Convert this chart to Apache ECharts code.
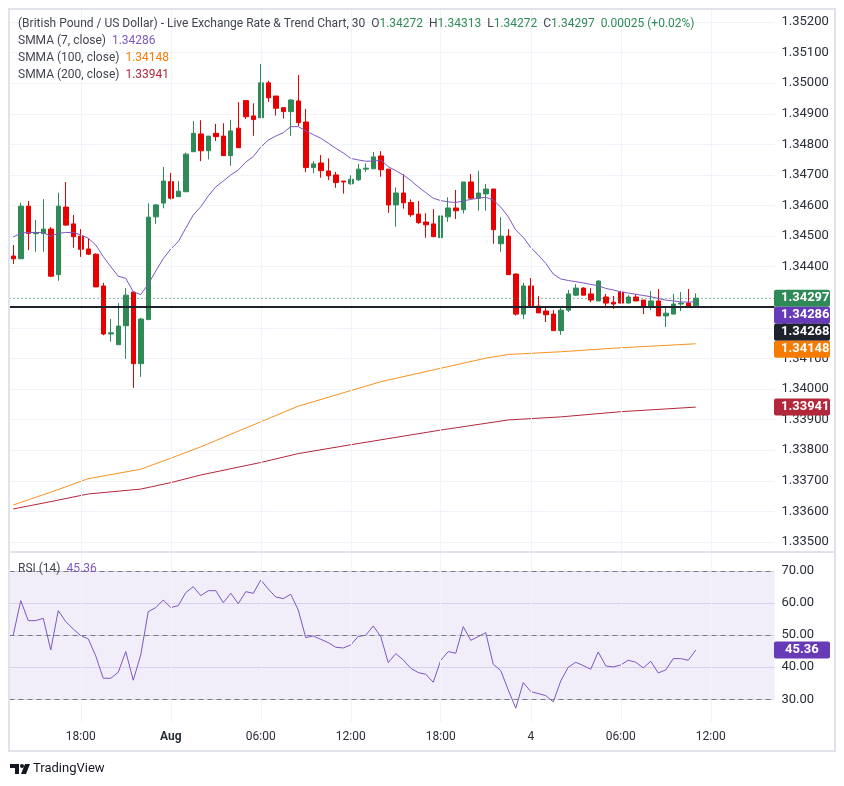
<!DOCTYPE html>
<html>
<head>
<meta charset="utf-8">
<title>GBP/USD 30</title>
<script src="https://cdn.jsdelivr.net/npm/echarts/dist/echarts.min.js"></script>
<style>
html, body { margin: 0; padding: 0; background: #fff; }
#chart { width: 844px; height: 786px; }
</style>
</head>
<body>
<div id="chart"></div>
<script>
// candles, 30 min, from 31 Jul 13:30 to 4 Aug 11:00
var open = [1.34435,1.34426,1.34598,1.34508,1.34508,1.34523,1.34374,1.34595,1.34540,1.34500,
            1.34458,1.34441,1.34337,1.34180,1.34145,1.34207,1.34317,1.34083,1.34227,1.34563,
            1.34608,1.34678,1.34629,1.34645,1.34776,1.34834,1.34779,1.34836,1.34827,1.34763,
            1.34853,1.34943,1.34893,1.34887,1.35001,1.34958,1.34920,1.34907,1.34942,1.34873,
            1.34724,1.34739,1.34713,1.34700,1.34680,1.34671,1.34684,1.34719,1.34720,1.34762,
            1.34719,1.34602,1.34641,1.34610,1.34572,1.34546,1.34540,1.34495,1.34563,1.34592,
            1.34586,1.34677,1.34624,1.34638,1.34654,1.34475,1.34500,1.34376,1.34245,1.34337,
            1.34271,1.34255,1.34245,1.34191,1.34258,1.34307,1.34330,1.34311,1.34288,1.34301,
            1.34284,1.34317,1.34281,1.34301,1.34291,1.34270,1.34288,1.34239,1.34245,1.34278,
            1.34281,1.34272];
var close = [1.34426,1.34598,1.34509,1.34512,1.34523,1.34369,1.34598,1.34536,1.34498,1.34457,
             1.34441,1.34334,1.34180,1.34184,1.34206,1.34307,1.34083,1.34229,1.34562,1.34602,
             1.34680,1.34624,1.34647,1.34768,1.34836,1.34779,1.34827,1.34825,1.34763,1.34844,
             1.34789,1.34890,1.34881,1.35001,1.34952,1.34918,1.34907,1.34945,1.34871,1.34724,
             1.34736,1.34714,1.34697,1.34675,1.34677,1.34686,1.34719,1.34722,1.34759,1.34717,
             1.34602,1.34641,1.34609,1.34570,1.34544,1.34537,1.34498,1.34566,1.34592,1.34583,
             1.34677,1.34624,1.34641,1.34654,1.34521,1.34500,1.34374,1.34245,1.34337,1.34270,
             1.34249,1.34243,1.34191,1.34258,1.34311,1.34330,1.34307,1.34291,1.34353,1.34281,
             1.34278,1.34281,1.34301,1.34288,1.34270,1.34288,1.34239,1.34248,1.34278,1.34281,
             1.34270,1.34297];
var low = [1.34409,1.34426,1.34454,1.34449,1.34449,1.34366,1.34354,1.34534,1.34462,1.34432,
           1.34438,1.34334,1.34176,1.34155,1.34145,1.34099,1.34004,1.34040,1.34227,1.34540,
           1.34591,1.34620,1.34629,1.34645,1.34776,1.34745,1.34751,1.34811,1.34763,1.34730,
           1.34789,1.34883,1.34828,1.34887,1.34939,1.34894,1.34884,1.34828,1.34860,1.34709,
           1.34705,1.34691,1.34683,1.34658,1.34639,1.34668,1.34680,1.34710,1.34720,1.34694,
           1.34576,1.34531,1.34590,1.34563,1.34540,1.34495,1.34498,1.34482,1.34547,1.34556,
           1.34574,1.34620,1.34583,1.34583,1.34475,1.34449,1.34374,1.34240,1.34229,1.34270,
           1.34249,1.34219,1.34191,1.34177,1.34252,1.34304,1.34307,1.34284,1.34288,1.34270,
           1.34262,1.34281,1.34281,1.34288,1.34245,1.34258,1.34239,1.34203,1.34245,1.34255,
           1.34270,1.34272];
var high = [1.34471,1.34609,1.34615,1.34553,1.34621,1.34530,1.34642,1.34677,1.34569,1.34523,
            1.34493,1.34444,1.34347,1.34229,1.34281,1.34330,1.34318,1.34233,1.34607,1.34605,
            1.34726,1.34707,1.34680,1.34773,1.34876,1.34879,1.34827,1.34867,1.34869,1.34880,
            1.34938,1.34943,1.34934,1.35063,1.35008,1.34958,1.34920,1.34948,1.35027,1.34916,
            1.34745,1.34765,1.34754,1.34710,1.34680,1.34699,1.34736,1.34738,1.34775,1.34778,
            1.34719,1.34659,1.34702,1.34620,1.34615,1.34575,1.34588,1.34566,1.34627,1.34651,
            1.34677,1.34703,1.34713,1.34670,1.34654,1.34562,1.34523,1.34378,1.34347,1.34363,
            1.34304,1.34270,1.34258,1.34271,1.34324,1.34343,1.34333,1.34330,1.34356,1.34311,
            1.34304,1.34321,1.34307,1.34311,1.34291,1.34320,1.34327,1.34271,1.34311,1.34317,
            1.34327,1.34313];

// SMMA (7) per candle
var smma7 = [1.34497,1.34510,1.34512,1.34512,1.34512,1.34499,1.34509,1.34512,1.34512,1.34504,
             1.34493,1.34471,1.34433,1.34400,1.34369,1.34362,1.34318,1.34309,1.34343,1.34386,
             1.34426,1.34458,1.34482,1.34526,1.34569,1.34596,1.34631,1.34661,1.34680,1.34700,
             1.34716,1.34742,1.34760,1.34791,1.34814,1.34827,1.34838,1.34858,1.34858,1.34844,
             1.34832,1.34820,1.34804,1.34787,1.34772,1.34754,1.34749,1.34745,1.34745,1.34749,
             1.34727,1.34714,1.34700,1.34682,1.34661,1.34642,1.34624,1.34616,1.34612,1.34610,
             1.34615,1.34620,1.34624,1.34627,1.34618,1.34595,1.34563,1.34520,1.34496,1.34463,
             1.34438,1.34411,1.34376,1.34360,1.34355,1.34351,1.34347,1.34342,1.34338,1.34329,
             1.34324,1.34318,1.34314,1.34310,1.34306,1.34302,1.34296,1.34291,1.34288,1.34285,
             1.34284,1.34286];
// SMMA (100) and (200), smooth curves sampled at [candle index, value]
var smma100 = [[0,1.33621],[5,1.33663],[10,1.33707],[17,1.33738],[21,1.33774],[25,1.33811],
               [33,1.33893],[38,1.33944],[45,1.33995],[49,1.34024],[57,1.34068],[63,1.34101],
               [66,1.34113],[73,1.34122],[81,1.34135],[91,1.34148]];
var smma200 = [[0,1.33608],[5,1.33632],[10,1.33657],[17,1.33673],[21,1.33694],[25,1.33719],
               [33,1.33760],[38,1.33789],[45,1.33818],[57,1.33866],[66,1.33899],[73,1.33909],
               [81,1.33926],[91,1.33941]];
// RSI (14)
var rsi = [50.06,60.76,54.53,54.53,55.25,45.39,57.64,54.22,51.93,49.85,
           48.82,43.52,36.56,36.56,38.43,44.87,35.94,43.83,57.33,58.58,
           60.97,58.58,59.20,63.25,65.12,62.32,63.87,63.87,60.13,63.04,
           59.82,63.56,63.04,67.20,64.39,61.90,61.38,62.73,57.85,49.23,
           49.75,48.71,47.67,46.22,46.01,46.95,49.60,49.96,52.87,49.54,
           41.44,44.25,42.27,39.68,38.33,37.81,35.32,42.17,44.87,44.35,
           52.66,48.40,49.54,50.79,40.92,38.95,32.93,27.22,35.21,32.41,
           31.79,31.16,29.19,35.73,39.99,41.55,40.51,39.37,44.77,40.40,
           40.09,40.72,42.17,41.55,39.78,41.86,38.22,39.16,42.69,42.69,
           42.17,45.36];

var hLine = 1.34268;          // drawn horizontal line
var rsiLast = 45.36;
var changeText = '0.00025 (+0.02%)';

// time slots: 92 candles + 10 empty slots on the right
var categories = [];
var tickLabels = {};
var t0 = Date.UTC(2025, 6, 31, 13, 30);
for (var i = 0; i < 102; i++) {
    var t = t0 + i * 1800000;
    if (i >= 63) t += 48 * 3600000;   // weekend gap, Fri 21:00 -> Sun 21:00
    var d = new Date(t);
    var hh = d.getUTCHours(), mm = d.getUTCMinutes();
    categories.push(d.toISOString().slice(5, 16).replace('T', ' '));
    if (mm === 0 && hh % 6 === 0) {
        if (hh === 0) tickLabels[i] = d.getUTCDate() === 1 ? '{m|Aug}' : String(d.getUTCDate());
        else tickLabels[i] = (hh < 10 ? '0' : '') + hh + ':00';
    }
}

var upColor = '#2f8a58';
var downColor = '#e60000';
var purple = '#7e57c2';
var orange = '#f7931e';
var darkRed = '#b2283a';
var gridColor = '#f0f3fa';
var textColor = '#2a2e39';
var font = 'Roboto, "Noto Sans", sans-serif';

var candles = open.map(function (o, k) { return [o, close[k], low[k], high[k]]; });
var tickIdx = Object.keys(tickLabels).map(Number);
var n = close.length - 1;

var L = 9.5, W = 765;
var chart = echarts.init(document.getElementById('chart'), null, {renderer: 'canvas'});

var option = {
    animation: false,
    backgroundColor: '#fff',
    grid: [
        {left: L, width: W, top: 22, height: 520},
        {left: L, width: W, top: 571, height: 128.3},
        {left: L, width: W, top: 9, height: 713}
    ],
    xAxis: [
        {type: 'category', gridIndex: 0, data: categories, show: false},
        {type: 'category', gridIndex: 1, data: categories, show: false},
        {type: 'category', gridIndex: 2, data: categories,
         axisLine: {show: false}, axisTick: {show: false}, splitLine: {show: false},
         axisLabel: {
             interval: function (idx) { return tickLabels[idx] !== undefined; },
             formatter: function (v, idx) { return tickLabels[idx]; },
             color: textColor, fontSize: 12, fontFamily: font, margin: 9,
             rich: {m: {fontWeight: 'bold', fontSize: 12, color: textColor, fontFamily: font}}
         }}
    ],
    yAxis: [
        {type: 'value', gridIndex: 0, position: 'right', min: 1.335, max: 1.352, interval: 0.001,
         axisLine: {show: false}, axisTick: {show: false},
         axisLabel: {formatter: function (v) { return v.toFixed(5); }, color: textColor,
                     fontSize: 13, fontFamily: font, margin: 7},
         splitLine: {lineStyle: {color: gridColor, width: 1}}},
        {type: 'value', gridIndex: 1, position: 'right', min: 30, max: 70, interval: 10,
         axisLine: {show: false}, axisTick: {show: false},
         axisLabel: {formatter: function (v) { return v.toFixed(2); }, color: textColor,
                     fontSize: 13, fontFamily: font, margin: 7},
         splitLine: {lineStyle: {color: '#e4dff0', width: 1}}},
        {type: 'value', gridIndex: 2, min: 0, max: 1, show: false}
    ],
    series: [
        {   // vertical grid lines at time labels
            type: 'line', xAxisIndex: 2, yAxisIndex: 2, data: [], z: 0, silent: true,
            markLine: {
                silent: true, symbol: ['none', 'none'], label: {show: false},
                lineStyle: {color: gridColor, width: 1, type: 'solid'},
                data: tickIdx.map(function (k) { return {xAxis: k}; })
            }
        },
        {
            name: 'GBPUSD', type: 'candlestick', xAxisIndex: 0, yAxisIndex: 0,
            data: candles, barWidth: 5, z: 3,
            itemStyle: {color: upColor, color0: downColor, borderColor: upColor,
                        borderColor0: downColor, borderWidth: 1}
        },
        {name: 'SMMA 7', type: 'line', xAxisIndex: 0, yAxisIndex: 0, data: smma7,
         symbol: 'none', lineStyle: {color: purple, width: 1}, z: 4,
         markLine: {
             silent: true, precision: 5, symbol: ['none', 'none'], label: {show: false},
             data: [
                 {yAxis: close[n], lineStyle: {color: upColor, type: [1, 3], width: 1}},
                 {yAxis: hLine, lineStyle: {color: '#1e222d', type: 'solid', width: 2}}
             ]
         }},
        {name: 'SMMA 100', type: 'line', xAxisIndex: 0, yAxisIndex: 0, data: smma100,
         symbol: 'none', lineStyle: {color: orange, width: 1}, z: 4},
        {name: 'SMMA 200', type: 'line', xAxisIndex: 0, yAxisIndex: 0, data: smma200,
         symbol: 'none', lineStyle: {color: darkRed, width: 1}, z: 4},
        {
            name: 'RSI', type: 'line', xAxisIndex: 1, yAxisIndex: 1, data: rsi, clip: false,
            symbol: 'none', lineStyle: {color: purple, width: 1}, z: 4,
            markArea: {silent: true, itemStyle: {color: 'rgba(126,87,194,0.1)'},
                       data: [[{yAxis: 30}, {yAxis: 70}]]},
            markLine: {
                silent: true, symbol: ['none', 'none'], label: {show: false},
                lineStyle: {color: '#787b86', type: [5, 4], width: 1},
                data: [{yAxis: 70}, {yAxis: 50}, {yAxis: 30}]
            }
        }
    ]
};
chart.setOption(option);

// right-scale value tags, stacked so they do not overlap
var tags = [
    {v: close[n], c: upColor},
    {v: smma7[n], c: '#673ab7'},
    {v: hLine, c: '#1e222d'},
    {v: smma100[smma100.length - 1][1], c: '#f57c00'},
    {v: smma200[smma200.length - 1][1], c: darkRed}
].sort(function (a, b) { return b.v - a.v; });

var graphics = [];
var prevY = -100;
tags.forEach(function (tg) {
    var y = Math.max(chart.convertToPixel({yAxisIndex: 0}, tg.v), prevY + 17);
    prevY = y;
    graphics.push({type: 'rect', z: 50, shape: {x: 774, y: y - 8.5, width: 56, height: 17, r: 2},
                   style: {fill: tg.c}});
    graphics.push({type: 'text', z: 51, x: 781, y: y,
                   style: {text: tg.v.toFixed(5), fill: '#fff', font: 'bold 13px ' + font,
                           textVerticalAlign: 'middle'}});
});
var ry = chart.convertToPixel({yAxisIndex: 1}, rsiLast);
graphics.push({type: 'rect', z: 50, shape: {x: 774, y: ry - 8.5, width: 56, height: 17, r: 2},
               style: {fill: '#673ab7'}});
graphics.push({type: 'text', z: 51, x: 785, y: ry,
               style: {text: rsiLast.toFixed(2), fill: '#fff', font: 'bold 13px ' + font,
                       textVerticalAlign: 'middle'}});

// legend block, top left
var f5 = function (v) { return v.toFixed(5); };
var fs = '12px ' + font;
var rich = {
    g: {fill: '#434651', font: fs},
    v: {fill: upColor, font: fs},
    p: {fill: purple, font: fs},
    o: {fill: '#f57c00', font: fs},
    r: {fill: darkRed, font: fs}
};
var line1 = '{g|(British Pound / US Dollar) - Live Exchange Rate & Trend Chart, 30  O}{v|' + f5(open[n]) +
            '}{g|  H}{v|' + f5(high[n]) + '}{g|  L}{v|' + f5(low[n]) + '}{g|  C}{v|' + f5(close[n]) +
            '}{v|  ' + changeText + '}';
var legendLines = [
    [24, line1],
    [41, '{g|SMMA (7, close)  }{p|' + f5(smma7[n]) + '}'],
    [58, '{g|SMMA (100, close)  }{o|' + f5(smma100[smma100.length - 1][1]) + '}'],
    [75, '{g|SMMA (200, close)  }{r|' + f5(smma200[smma200.length - 1][1]) + '}'],
    [569, '{g|RSI (14)  }{p|' + rsiLast.toFixed(2) + '}']
];
legendLines.forEach(function (ln) {
    graphics.push({type: 'text', z: 60, x: 18, y: ln[0],
                   style: {text: ln[1], rich: rich, textVerticalAlign: 'middle'}});
});

// frame and pane separator
graphics.push({type: 'rect', z: 40, shape: {x: 9, y: 9, width: 826, height: 742},
               style: {fill: 'none', stroke: '#e0e3eb', lineWidth: 2}});
graphics.push({type: 'line', z: 40, shape: {x1: 9, y1: 552, x2: 835, y2: 552},
               style: {stroke: '#e0e3eb', lineWidth: 2}});

// TradingView mark
graphics.push({type: 'polygon', z: 60, shape: {points: [[10, 764], [19, 764], [19, 774], [15, 774], [15, 768], [10, 768]]},
               style: {fill: '#131722'}});
graphics.push({type: 'circle', z: 60, shape: {cx: 22, cy: 766, r: 2}, style: {fill: '#131722'}});
graphics.push({type: 'polygon', z: 60, shape: {points: [[25, 764], [30, 764], [26, 774], [21, 774]]},
               style: {fill: '#131722'}});
graphics.push({type: 'text', z: 60, x: 33, y: 769,
               style: {text: 'TradingView', fill: '#131722', font: '13px ' + font, textVerticalAlign: 'middle'}});

chart.setOption({graphic: graphics});
</script>
</body>
</html>
